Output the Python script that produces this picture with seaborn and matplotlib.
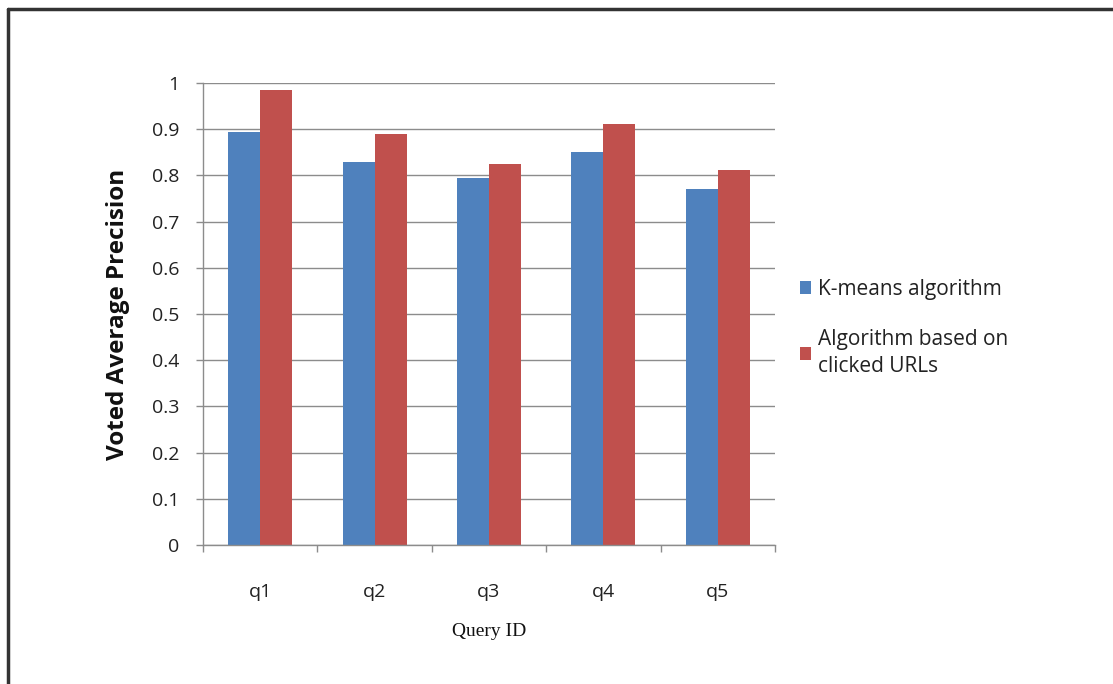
import matplotlib
matplotlib.use("Agg")
import matplotlib.pyplot as plt
import seaborn as sns
import pandas as pd
from matplotlib.lines import Line2D
from matplotlib.patches import Patch

queries = ["q1", "q2", "q3", "q4", "q5"]
kmeans = [0.893, 0.828, 0.794, 0.850, 0.771]
clicked = [0.984, 0.889, 0.824, 0.911, 0.811]
series_names = ["K-means algorithm", "Algorithm based on\nclicked URLs"]
colors = ["#4F81BD", "#C0504D"]
yticks = [0, 0.1, 0.2, 0.3, 0.4, 0.5, 0.6, 0.7, 0.8, 0.9, 1]

df = pd.DataFrame({
    "Query": queries * 2,
    "Value": kmeans + clicked,
    "Series": [series_names[0]] * len(queries) + [series_names[1]] * len(queries),
})

sns.set_style("white")
plt.rcParams["font.family"] = ["Open Sans", "DejaVu Sans"]

W, H = 1113, 684
fig = plt.figure(figsize=(W / 100, H / 100), dpi=100)
ax = fig.add_axes([203 / W, 1 - 545 / H, (775 - 203) / W, (545 - 83) / H])

sns.barplot(data=df, x="Query", y="Value", hue="Series", palette=colors,
            width=0.56, ax=ax, saturation=1, legend=False, linewidth=0)

ax.set_ylim(0, 1)
ax.set_xlim(-0.5, 4.5)
ax.set_yticks(yticks)
ax.set_yticklabels([f"{v:g}" for v in yticks], fontsize=14, color="#222222")
ax.yaxis.grid(True, color="#8c8c8c", linewidth=1)
ax.set_axisbelow(True)
for s in ["top", "right"]:
    ax.spines[s].set_visible(False)
for s in ["left", "bottom"]:
    ax.spines[s].set_color("#8c8c8c")
    ax.spines[s].set_linewidth(1)

ax.tick_params(axis="y", which="major", left=True, length=5, width=1,
               color="#8c8c8c", direction="out", pad=12)
ax.set_xticks(range(len(queries)))
ax.set_xticklabels(queries, fontsize=14, color="#222222")
ax.tick_params(axis="x", which="major", bottom=False, pad=24)
ax.set_xticks([i - 0.5 for i in range(len(queries) + 1)], minor=True)
ax.tick_params(axis="x", which="minor", bottom=True, length=5, width=1,
               color="#8c8c8c", direction="out")

ax.set_ylabel("Voted Average Precision", fontsize=17.5, fontweight="bold",
              color="#111111", labelpad=16)
ax.set_xlabel("Query ID", fontsize=14, family=["Liberation Serif", "DejaVu Serif"],
              color="#111111", labelpad=16)

handles = [Patch(facecolor=c, edgecolor="none") for c in colors]
leg = ax.legend(handles, series_names, loc="center left",
                bbox_to_anchor=(800 / W, 1 - 328 / H),
                bbox_transform=fig.transFigure, frameon=False, fontsize=15,
                handlelength=0.55, handleheight=0.55, handletextpad=0.3,
                labelspacing=1.4, borderpad=0, borderaxespad=0)
for t in leg.get_texts():
    t.set_linespacing(1.4)
    t.set_color("#222222")

fig.add_artist(Line2D([8 / W, 8 / W], [0, 1 - 9 / H], transform=fig.transFigure,
                      color="#333333", linewidth=2.5))
fig.add_artist(Line2D([8 / W, 1], [1 - 9 / H, 1 - 9 / H], transform=fig.transFigure,
                      color="#333333", linewidth=2.5))

fig.savefig("out.png", dpi=100, facecolor="white")
